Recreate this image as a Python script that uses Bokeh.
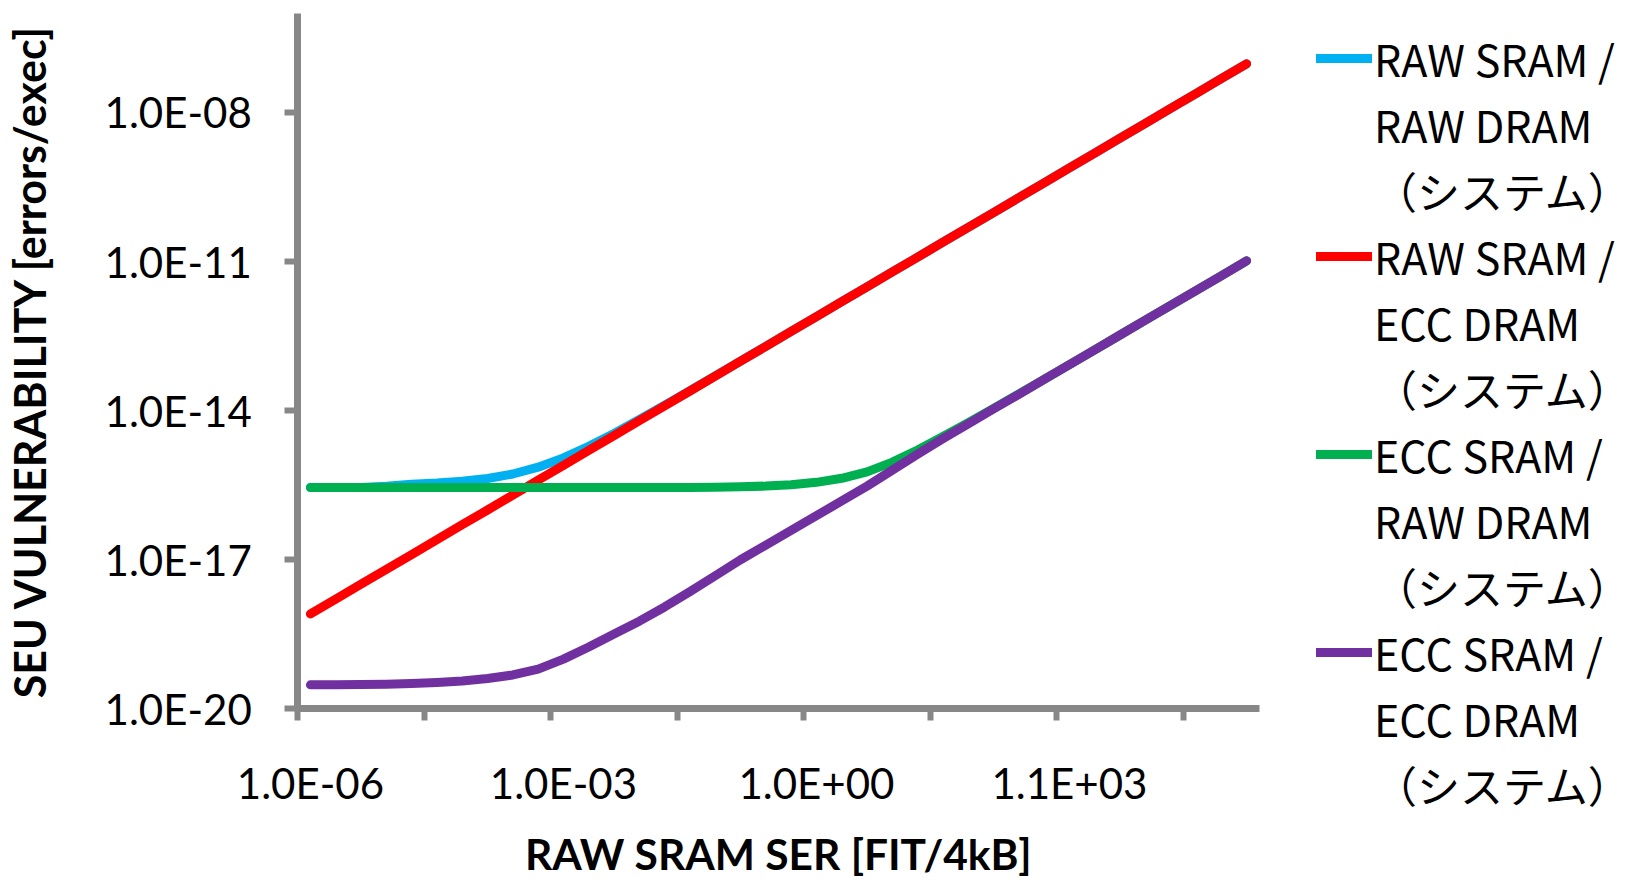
import math
from bokeh.plotting import figure
from bokeh.models import Range1d, FixedTicker, Legend, LegendItem
from bokeh.embed import file_html
from bokeh.resources import INLINE

# RAW SRAM SER [FIT/4kB] categories (x)
ser = [1.0e-06, 2.0e-06, 4.0e-06, 8.0e-06, 1.6e-05, 3.2e-05, 6.4e-05, 1.28e-04, 2.56e-04, 5.12e-04,
       1.024e-03, 2.048e-03, 4.096e-03, 8.192e-03, 1.6384e-02, 3.2768e-02, 6.5536e-02, 0.131072, 0.262144, 0.524288,
       1.048576, 2.097152, 4.194304, 8.388608, 16.777216, 33.554432, 67.108864, 134.217728, 268.435456, 536.870912,
       1073.741824, 2147.483648, 4294.967296, 8589.934592, 17179.869184, 34359.738368, 68719.476736, 137438.953472]

raw_sram_raw_dram = [2.83e-16, 2.83e-16, 2.85e-16, 3.00e-16, 3.30e-16, 3.50e-16, 3.81e-16, 4.30e-16, 5.30e-16, 7.28e-16,
                     1.12e-15, 1.91e-15, 3.48e-15, 6.60e-15, 1.28e-14, 2.51e-14, 4.98e-14, 9.89e-14, 1.96e-13, 3.91e-13,
                     7.78e-13, 1.55e-12, 3.09e-12, 6.15e-12, 1.22e-11, 2.44e-11, 4.85e-11, 9.66e-11, 1.92e-10, 3.83e-10,
                     7.63e-10, 1.52e-09, 3.03e-09, 6.03e-09, 1.20e-08, 2.39e-08, 4.76e-08, 9.48e-08]

raw_sram_ecc_dram = [8.09e-19, 1.61e-18, 3.21e-18, 6.38e-18, 1.27e-17, 2.53e-17, 5.05e-17, 1.00e-16, 2.00e-16, 3.98e-16,
                     7.93e-16, 1.58e-15, 3.15e-15, 6.27e-15, 1.25e-14, 2.48e-14, 4.95e-14, 9.86e-14, 1.96e-13, 3.91e-13,
                     7.78e-13, 1.55e-12, 3.09e-12, 6.15e-12, 1.22e-11, 2.44e-11, 4.85e-11, 9.66e-11, 1.92e-10, 3.83e-10,
                     7.63e-10, 1.52e-09, 3.03e-09, 6.03e-09, 1.20e-08, 2.39e-08, 4.76e-08, 9.48e-08]

ecc_sram_raw_dram = [2.83e-16, 2.83e-16, 2.83e-16, 2.83e-16, 2.83e-16, 2.83e-16, 2.83e-16, 2.83e-16, 2.83e-16, 2.83e-16,
                     2.83e-16, 2.83e-16, 2.83e-16, 2.83e-16, 2.84e-16, 2.85e-16, 2.88e-16, 2.93e-16, 3.03e-16, 3.22e-16,
                     3.60e-16, 4.35e-16, 5.85e-16, 9.18e-16, 1.61e-15, 3.01e-15, 5.70e-15, 1.11e-14, 2.16e-14, 4.27e-14,
                     8.44e-14, 1.67e-13, 3.32e-13, 6.59e-13, 1.31e-12, 2.60e-12, 5.16e-12, 1.03e-11]

ecc_sram_ecc_dram = [3.03e-20, 3.05e-20, 3.08e-20, 3.13e-20, 3.24e-20, 3.39e-20, 3.63e-20, 4.07e-20, 4.79e-20, 6.30e-20,
                     1.00e-19, 1.75e-19, 3.20e-19, 5.80e-19, 1.12e-18, 2.28e-18, 4.76e-18, 9.98e-18, 1.97e-17, 3.90e-17,
                     7.69e-17, 1.52e-16, 3.02e-16, 6.35e-16, 1.33e-15, 2.73e-15, 5.42e-15, 1.08e-14, 2.13e-14, 4.24e-14,
                     8.41e-14, 1.67e-13, 3.32e-13, 6.59e-13, 1.31e-12, 2.60e-12, 5.16e-12, 1.03e-11]

series_labels = ["RAW SRAM /\nRAW DRAM\n（システム）",
                 "RAW SRAM /\nECC DRAM\n（システム）",
                 "ECC SRAM /\nRAW DRAM\n（システム）",
                 "ECC SRAM /\nECC DRAM\n（システム）"]
series_colors = ["#00B0F0", "#FF0000", "#00B050", "#7030A0"]

x_label_idx = [0, 10, 20, 30]
x_tick_labels = ["1.0E-06", "1.0E-03", "1.0E+00", "1.1E+03"]
y_ticks = [1e-20, 1e-17, 1e-14, 1e-11, 1e-08]
y_tick_labels = ["1.0E-20", "1.0E-17", "1.0E-14", "1.0E-11", "1.0E-08"]
y_top = 1e-06

AXFONT = "Lato"
LGFONT = "Noto Sans CJK JP"
AX = "#878787"

# page layout (pixels inside the canvas)
W, H = 1626, 879
AXIS_X0, AXIS_X1 = 297.3, 1258.7     # left / right end of the x axis
AXIS_Y0, AXIS_Y1 = 12.5, 708.3       # top / bottom end of the y axis

half = math.sqrt(2.0)
x_lo, x_hi = ser[0] / half, ser[-1] * half
lo, hi = math.log10(x_lo), math.log10(x_hi)
ppx = (AXIS_X1 - AXIS_X0) / (hi - lo)
ylo, yhi = math.log10(y_ticks[0]), math.log10(y_top)
ppy = (AXIS_Y1 - AXIS_Y0) / (yhi - ylo)

p = figure(width=W, height=H, x_axis_type="log", y_axis_type="log",
           x_range=Range1d(10 ** (lo - AXIS_X0 / ppx), 10 ** (hi + (W - AXIS_X1) / ppx)),
           y_range=Range1d(10 ** (ylo - (H - AXIS_Y1) / ppy), 10 ** (yhi + AXIS_Y0 / ppy)),
           output_backend="svg", toolbar_location=None,
           min_border_left=0, min_border_right=0, min_border_top=0, min_border_bottom=0)
p.outline_line_color = None
p.grid.visible = False
p.background_fill_color = "white"

ys = [raw_sram_raw_dram, raw_sram_ecc_dram, ecc_sram_raw_dram, ecc_sram_ecc_dram]
renderers = []
for yv, c in zip(ys, series_colors):
    renderers.append(p.line(ser, yv, line_color=c, line_width=9, line_cap="round", line_join="round"))

# x axis: labels at every 10th category, tick marks at category boundaries every 5
xa = p.xaxis[0]
xa.fixed_location = y_ticks[0]
xa.bounds = (x_lo, x_hi)
boundaries = [ser[i] / half for i in range(0, len(ser), 5)]
xa.ticker = FixedTicker(ticks=[ser[i] for i in x_label_idx], minor_ticks=boundaries)
xa.major_label_overrides = {ser[i]: lab for i, lab in zip(x_label_idx, x_tick_labels)}
xa.major_tick_line_color = None
xa.major_tick_out = 0
xa.major_tick_in = 0
xa.minor_tick_line_color = AX
xa.minor_tick_line_width = 6
xa.minor_tick_out = 12
xa.minor_tick_in = 0
xa.axis_line_color = AX
xa.axis_line_width = 7
xa.major_label_text_font = AXFONT
xa.major_label_text_font_size = "42px"
xa.major_label_text_color = "black"
xa.major_label_standoff = 37
xa.axis_label = "RAW SRAM SER [FIT/4kB]"
xa.axis_label_text_font = AXFONT
xa.axis_label_text_font_size = "42.5px"
xa.axis_label_text_font_style = "bold"
xa.axis_label_text_color = "black"
xa.axis_label_standoff = 17

ya = p.yaxis[0]
ya.fixed_location = x_lo
ya.bounds = (y_ticks[0], y_top)
ya.ticker = FixedTicker(ticks=y_ticks, minor_ticks=[])
ya.major_label_overrides = {v: lab for v, lab in zip(y_ticks, y_tick_labels)}
ya.major_tick_line_color = AX
ya.major_tick_line_width = 6
ya.major_tick_out = 13
ya.major_tick_in = 0
ya.minor_tick_line_color = None
ya.axis_line_color = AX
ya.axis_line_width = 7
ya.major_label_text_font = AXFONT
ya.major_label_text_font_size = "42px"
ya.major_label_text_color = "black"
ya.major_label_standoff = 33
ya.axis_label = "SEU VULNERABILITY [errors/exec]"
ya.axis_label_text_font = AXFONT
ya.axis_label_text_font_size = "43px"
ya.axis_label_text_font_style = "bold"
ya.axis_label_text_color = "black"
ya.axis_label_standoff = 46

# one legend row per label line; the line glyph sits on the first line of each entry
items = []
for lab, r in zip(series_labels, renderers):
    lines = lab.split("\n")
    items.append(LegendItem(label=lines[0], renderers=[r]))
    for ln in lines[1:]:
        items.append(LegendItem(label=ln, renderers=[]))

legend = Legend(items=items, location=(1316, 64), orientation="vertical",
                label_text_font=LGFONT, label_text_font_size="43px", label_text_color="black",
                glyph_width=56, glyph_height=30, label_standoff=2, spacing=4,
                padding=0, margin=0, border_line_color=None, background_fill_alpha=0)
p.add_layout(legend, "center")

open("out.html", "w").write(file_html(p, INLINE))
